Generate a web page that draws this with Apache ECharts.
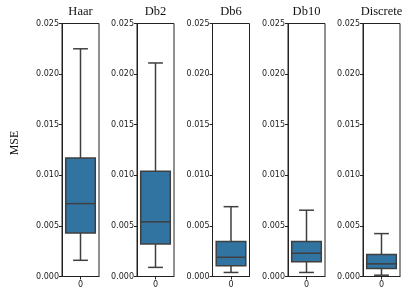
<!DOCTYPE html>
<html>
<head>
<meta charset="utf-8">
<script src="https://cdn.jsdelivr.net/npm/echarts@6/dist/echarts.min.js"></script>
<style>html,body{margin:0;padding:0;background:#fff}#c{width:415px;height:299px}</style>
</head>
<body>
<div id="c"></div>
<script>
// Data
var panels = ['Haar', 'Db2', 'Db6', 'Db10', 'Discrete'];
var xCategories = ['0'];
var whiskerLow  = [0.0016, 0.0009, 0.0004, 0.0004, 0.00013];
var q1          = [0.0043, 0.0032, 0.00105, 0.00145, 0.0008];
var median      = [0.0072, 0.0054, 0.0019, 0.0023, 0.00125];
var q3          = [0.0117, 0.0104, 0.00345, 0.00345, 0.00217];
var whiskerHigh = [0.0225, 0.0211, 0.0069, 0.00655, 0.00424];
var yTicks = [0, 0.005, 0.010, 0.015, 0.020, 0.025];
var yLabel = 'MSE';

(function () {
var chart = echarts.init(document.getElementById('c'), null, {renderer: 'canvas'});

var lefts = [62, 137, 212.5, 288, 363];
var pw = 37, gTop = 23.5, ph = 253;
var lineCol = '#3f3f3f';
var boxCol = '#3274a1';
var sans = '"DejaVu Sans", sans-serif';

var grids = [], xAxes = [], yAxes = [], series = [], graphics = [];
panels.forEach(function (name, i) {
  grids.push({left: lefts[i], top: gTop, width: pw, height: ph, show: true,
    borderColor: '#222', borderWidth: 1, backgroundColor: 'transparent'});
  xAxes.push({type: 'category', gridIndex: i, data: xCategories,
    axisLine: {show: true, lineStyle: {color: '#222', width: 1}},
    axisTick: {show: true, alignWithLabel: true, length: 3, lineStyle: {color: '#222'}},
    axisLabel: {fontSize: 8, color: '#222', fontFamily: sans, margin: 4},
    splitLine: {show: false}});
  yAxes.push({type: 'value', gridIndex: i, min: yTicks[0], max: yTicks[yTicks.length - 1], interval: 0.005,
    axisLine: {show: true, lineStyle: {color: '#222', width: 1}},
    axisTick: {show: true, length: 3, lineStyle: {color: '#222'}},
    axisLabel: {fontSize: 8, color: '#222', fontFamily: sans, margin: 3,
      formatter: function (v) { return v.toFixed(3); }},
    splitLine: {show: false}});
  graphics.push({type: 'text', x: lefts[i] + pw / 2, y: 12,
    style: {text: name, font: '12.5px "Liberation Serif", serif', fill: '#111', align: 'center', verticalAlign: 'middle'}});
  series.push({
    type: 'custom', xAxisIndex: i, yAxisIndex: i,
    data: [[0, whiskerLow[i], q1[i], median[i], q3[i], whiskerHigh[i]]],
    renderItem: function (params, api) {
      var c = api.value(0);
      var pLow = api.coord([c, api.value(1)]);
      var pQ1 = api.coord([c, api.value(2)]);
      var pMed = api.coord([c, api.value(3)]);
      var pQ3 = api.coord([c, api.value(4)]);
      var pHigh = api.coord([c, api.value(5)]);
      var band = api.size([1, 0])[0];
      var bw = band * 0.8, cw = bw / 2;
      var x = pMed[0];
      var ls = {stroke: lineCol, lineWidth: 1.5};
      return {type: 'group', children: [
        {type: 'line', shape: {x1: x, y1: pQ3[1], x2: x, y2: pHigh[1]}, style: ls},
        {type: 'line', shape: {x1: x, y1: pQ1[1], x2: x, y2: pLow[1]}, style: ls},
        {type: 'line', shape: {x1: x - cw / 2, y1: pHigh[1], x2: x + cw / 2, y2: pHigh[1]}, style: ls},
        {type: 'line', shape: {x1: x - cw / 2, y1: pLow[1], x2: x + cw / 2, y2: pLow[1]}, style: ls},
        {type: 'rect', shape: {x: x - bw / 2, y: pQ3[1], width: bw, height: pQ1[1] - pQ3[1]},
          style: {fill: boxCol, stroke: lineCol, lineWidth: 1.5}},
        {type: 'line', shape: {x1: x - bw / 2, y1: pMed[1], x2: x + bw / 2, y2: pMed[1]}, style: ls}
      ]};
    }
  });
});

graphics.push({type: 'text', x: 15, y: 143, rotation: Math.PI / 2,
  style: {text: yLabel, font: '12px "Liberation Serif", serif', fill: '#111', align: 'center', verticalAlign: 'middle'}});

chart.setOption({
  animation: false,
  backgroundColor: '#fff',
  grid: grids,
  xAxis: xAxes,
  yAxis: yAxes,
  series: series,
  graphic: graphics
});
})();
</script>
</body>
</html>
